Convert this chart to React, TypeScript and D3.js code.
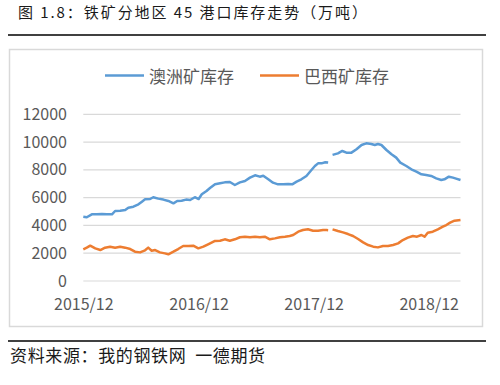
import { useEffect, useRef } from "react";
import * as d3 from "d3";

const TITLE = "图 1.8：铁矿分地区 45 港口库存走势（万吨）";
const SOURCE = "资料来源：我的钢铁网  一德期货";

const AUS_LABEL = "澳洲矿库存";
const BRA_LABEL = "巴西矿库存";

// 澳洲矿库存 (null = gap in source data)
const ausDates = [
  "2015-12-01", "2015-12-12", "2015-12-28", "2016-01-13", "2016-01-29", "2016-02-14", "2016-03-01",
  "2016-03-11", "2016-03-27", "2016-04-12", "2016-04-22", "2016-05-08", "2016-05-24", "2016-06-04",
  "2016-06-14", "2016-06-30", "2016-07-10", "2016-07-26", "2016-08-11", "2016-08-27", "2016-09-12",
  "2016-09-24", "2016-10-08", "2016-10-22", "2016-11-04", "2016-11-19", "2016-12-01", "2016-12-11",
  "2016-12-26", "2017-01-06", "2017-01-22", "2017-02-07", "2017-02-22", "2017-03-10", "2017-03-26",
  "2017-04-11", "2017-04-27", "2017-05-13", "2017-05-29", "2017-06-13", "2017-06-24", "2017-07-10",
  "2017-07-25", "2017-08-10", "2017-08-26", "2017-09-11", "2017-09-24", "2017-10-08", "2017-10-23",
  "2017-11-08", "2017-11-24", "2017-12-05", "2017-12-15", "2017-12-26", "2018-01-07", "2018-01-16",
  "2018-01-23", "2018-01-30", "2018-02-16", "2018-03-02", "2018-03-15", "2018-03-31", "2018-04-16",
  "2018-05-02", "2018-05-17", "2018-06-02", "2018-06-13", "2018-06-23", "2018-07-04", "2018-07-20",
  "2018-08-05", "2018-08-20", "2018-09-02", "2018-09-21", "2018-10-07", "2018-10-23", "2018-11-08",
  "2018-11-23", "2018-12-09", "2018-12-25", "2019-01-10", "2019-01-20", "2019-02-03", "2019-02-16",
  "2019-02-26", "2019-03-12",
];
const ausValues = [
  4630, 4590, 4800, 4800, 4820, 4800, 4800,
  5040, 5060, 5110, 5280, 5350, 5520, 5710,
  5880, 5900, 6030, 5930, 5860, 5760, 5590,
  5760, 5780, 5860, 5830, 6030, 5900, 6240,
  6480, 6690, 6960, 7030, 7100, 7130, 6910,
  7100, 7200, 7440, 7610, 7510, 7580, 7320,
  7080, 6960, 6960, 6980, 6960, 7150, 7320,
  7560, 7990, 8280, 8470, 8470, 8550, 8530,
  null, 9080, 9190, 9360, 9240, 9240, 9480,
  9790, 9910, 9860, 9790, 9860, 9790, 9430,
  9120, 8880, 8520, 8280, 8040, 7870, 7680,
  7630, 7560, 7390, 7270, 7320, 7510, 7440,
  7370, 7270,
];

// 巴西矿库存
const braDates = [
  "2015-12-01", "2015-12-12", "2015-12-23", "2016-01-08", "2016-01-24", "2016-02-08", "2016-02-24",
  "2016-03-11", "2016-03-27", "2016-04-12", "2016-04-28", "2016-05-13", "2016-05-29", "2016-06-14",
  "2016-06-24", "2016-07-05", "2016-07-16", "2016-07-31", "2016-08-16", "2016-08-27", "2016-09-12",
  "2016-09-27", "2016-10-13", "2016-10-29", "2016-11-14", "2016-11-30", "2016-12-16", "2016-12-31",
  "2017-01-22", "2017-02-07", "2017-02-22", "2017-03-10", "2017-03-26", "2017-04-11", "2017-04-27",
  "2017-05-13", "2017-05-29", "2017-06-13", "2017-06-29", "2017-07-15", "2017-07-31", "2017-08-16",
  "2017-09-01", "2017-09-16", "2017-09-27", "2017-10-13", "2017-10-28", "2017-11-13", "2017-11-29",
  "2017-12-15", "2017-12-31", "2018-01-11", "2018-01-16", "2018-01-23", "2018-01-30", "2018-02-16",
  "2018-03-04", "2018-03-20", "2018-04-05", "2018-04-21", "2018-05-07", "2018-05-23", "2018-06-08",
  "2018-06-23", "2018-07-09", "2018-07-25", "2018-08-10", "2018-08-26", "2018-09-10", "2018-09-26",
  "2018-10-12", "2018-10-25", "2018-11-08", "2018-11-18", "2018-11-28", "2018-12-14", "2018-12-30",
  "2019-01-15", "2019-01-26", "2019-02-07", "2019-02-21", "2019-03-12",
];
const braValues = [
  2280, 2400, 2540, 2350, 2230, 2400, 2470,
  2400, 2470, 2400, 2300, 2110, 2060, 2210,
  2400, 2180, 2230, 2060, 1990, 1920, 2110,
  2300, 2520, 2520, 2540, 2350, 2470, 2640,
  2880, 2900, 3000, 2900, 3000, 3150, 3190,
  3150, 3190, 3150, 3190, 3000, 3070, 3150,
  3190, 3240, 3310, 3550, 3670, 3720, 3620,
  3620, 3670, 3670, 3660, null, 3720, 3600,
  3500, 3380, 3240, 3020, 2780, 2590, 2470,
  2420, 2520, 2520, 2590, 2710, 2950, 3120,
  3240, 3190, 3310, 3190, 3480, 3550, 3720,
  3910, 4030, 4200, 4340, 4390,
];

const yTicks = [0, 2000, 4000, 6000, 8000, 10000, 12000];
const xTickDates = ["2015-12-01", "2016-12-01", "2017-12-01", "2018-12-01"];
const xDomain = ["2015-12-01", "2019-03-12"];

const FONT = "'Noto Sans CJK SC', 'Noto Sans', sans-serif";

export default function App() {
  const ref = useRef<SVGSVGElement>(null);

  useEffect(() => {
    if (!ref.current) return;
    const svg = d3.select(ref.current);
    svg.selectAll("*").remove();

    const parse = d3.timeParse("%Y-%m-%d");
    const x = d3.scaleTime()
      .domain(xDomain.map(d => parse(d)!))
      .range([83.3, 460.5]);
    const y = d3.scaleLinear().domain([0, 12000]).range([281, 114.3]);

    // 标题
    svg.append("text")
      .attr("x", 18).attr("y", 18)
      .attr("font-size", 15).attr("fill", "#1a1a1a")
      .attr("font-family", FONT)
      .attr("textLength", 349).attr("lengthAdjust", "spacing")
      .text(TITLE);
    svg.append("line")
      .attr("x1", 8).attr("x2", 486).attr("y1", 35).attr("y2", 35)
      .attr("stroke", "#000").attr("stroke-width", 1.5);

    // 图表外框
    svg.append("rect")
      .attr("x", 9.5).attr("y", 49.5).attr("width", 473).attr("height", 277)
      .attr("fill", "#fff").attr("stroke", "#d9d9d9").attr("stroke-width", 1.5);

    // 网格线
    svg.selectAll(".grid")
      .data(yTicks)
      .join("line")
      .attr("x1", 83.3).attr("x2", 460.5)
      .attr("y1", d => y(d)).attr("y2", d => y(d))
      .attr("stroke", "#d9d9d9").attr("stroke-width", 1.2);

    // Y 轴
    const yAxis = svg.append("g")
      .attr("transform", "translate(83,0)")
      .call(d3.axisLeft(y).tickValues(yTicks).tickSize(0).tickPadding(16).tickFormat(d3.format("d")));
    yAxis.select(".domain").remove();
    yAxis.selectAll("text")
      .attr("font-size", 16).attr("fill", "#595959").attr("font-family", FONT);

    // X 轴
    const xAxis = svg.append("g")
      .attr("transform", "translate(0,281)")
      .call(d3.axisBottom(x)
        .tickValues(xTickDates.map(d => parse(d)!))
        .tickSize(0).tickPadding(18)
        .tickFormat(d => d3.timeFormat("%Y/%m")(d as Date)));
    xAxis.select(".domain").remove();
    xAxis.selectAll("text")
      .attr("font-size", 16).attr("fill", "#595959").attr("font-family", FONT);

    // 折线
    const series = [
      { dates: ausDates, values: ausValues, color: "#5b9bd5" },
      { dates: braDates, values: braValues, color: "#ed7d31" },
    ];
    series.forEach(s => {
      const pts = s.dates.map((d, i) => ({ date: parse(d)!, v: s.values[i] }));
      const line = d3.line<{ date: Date; v: number | null }>()
        .defined(d => d.v !== null)
        .x(d => x(d.date))
        .y(d => y(d.v as number));
      svg.append("path")
        .datum(pts)
        .attr("fill", "none")
        .attr("stroke", s.color)
        .attr("stroke-width", 2.5)
        .attr("stroke-linejoin", "round")
        .attr("d", line);
    });

    // 图例
    const legend = [
      { label: AUS_LABEL, color: "#5b9bd5", x: 105 },
      { label: BRA_LABEL, color: "#ed7d31", x: 260 },
    ];
    legend.forEach(l => {
      svg.append("line")
        .attr("x1", l.x).attr("x2", l.x + 39).attr("y1", 75.5).attr("y2", 75.5)
        .attr("stroke", l.color).attr("stroke-width", 2.5);
      svg.append("text")
        .attr("x", l.x + 44).attr("y", 83)
        .attr("font-size", 17).attr("fill", "#595959").attr("font-family", FONT)
        .text(l.label);
    });

    // 底部
    svg.append("line")
      .attr("x1", 8).attr("x2", 486).attr("y1", 341).attr("y2", 341)
      .attr("stroke", "#000").attr("stroke-width", 1.5);
    svg.append("text")
      .attr("x", 10).attr("y", 362)
      .attr("font-size", 17).attr("fill", "#1a1a1a").attr("font-family", FONT)
      .attr("textLength", 255).attr("lengthAdjust", "spacing")
      .style("white-space", "pre")
      .text(SOURCE);
  }, []);

  return (
    <div>
      <style>{"body{margin:0;background:#fff}"}</style>
      <svg ref={ref} width={500} height={385} style={{ display: "block" }} />
    </div>
  );
}
